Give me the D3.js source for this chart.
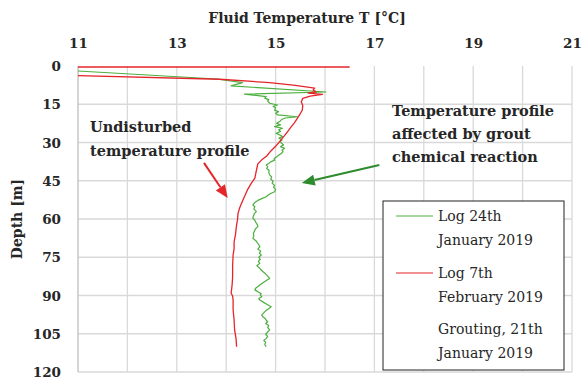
<!DOCTYPE html>
<html>
<head>
<meta charset="utf-8">
<script src="https://cdn.jsdelivr.net/npm/d3@7"></script>
<style>
  html, body { margin: 0; padding: 0; background: #fff; }
  svg { display: block; }
  .serif { font-family: "DejaVu Serif", "Liberation Serif", serif; }
</style>
</head>
<body>
<svg id="chart" width="582" height="380"></svg>
<script>
// Temperature ticks (top axis) and depth ticks (left axis)
const tempTicks = [11, 13, 15, 17, 19, 21];
const depthTicks = [0, 15, 30, 45, 60, 75, 90, 105, 120];

// Log 24th January 2019 (green)
const janDepth = [1.96, 5.1, 6.5, 7.8, 10.2, 11.0, 11.4, 12.0, 12.6, 13.2, 13.8, 14.6, 15.0, 15.3, 15.8, 16.4, 17.3, 17.9, 18.5, 19.2,
  19.9, 20.4, 21.0, 21.8, 22.5, 23.1, 23.8, 24.4, 25.0, 25.7, 26.4, 27.0, 27.7, 28.3, 29.0, 29.6, 30.3, 31.0, 31.6, 32.3,
  33.0, 33.6, 34.2, 35.0, 35.7, 36.3, 36.9, 37.6, 38.2, 38.8, 39.5, 40.2, 41.0, 41.7, 42.7, 43.5, 44.3, 45.2, 46.0, 46.8,
  47.6, 48.4, 49.3, 50.0, 50.6, 51.3, 52.0, 52.7, 53.5, 54.5, 55.2, 56.0, 57.1, 57.9, 58.8, 59.7, 60.5, 61.3, 62.2, 63.0,
  63.9, 64.8, 65.7, 66.6, 67.6, 68.5, 69.3, 70.1, 70.9, 71.8, 72.6, 73.4, 74.1, 75.0, 75.8, 76.6, 77.4, 78.3, 79.0, 79.8,
  80.6, 81.4, 82.2, 83.3, 84.0, 84.8, 85.6, 86.4, 87.1, 87.8, 88.6, 89.3, 89.8, 90.5, 91.2, 91.8, 92.6, 93.4, 94.4, 95.2,
  96.0, 96.8, 97.6, 98.3, 99.0, 99.7, 100.3, 101.0, 101.8, 102.6, 103.5, 104.3, 105.2, 106.0, 106.8, 107.6, 108.4, 109.2, 110.1];
const janTemp = [11.00, 13.81, 14.33, 14.10, 16.02, 14.37, 14.55, 14.81, 14.78, 14.86, 14.84, 14.88, 14.97, 15.04, 14.95, 15.00, 14.98, 15.06, 15.00, 15.04,
  15.44, 15.20, 15.12, 15.08, 15.02, 15.10, 14.98, 15.14, 15.06, 15.10, 15.01, 15.08, 15.14, 15.07, 15.13, 15.09, 15.12, 15.16, 15.10, 15.18,
  15.13, 15.15, 15.12, 15.06, 15.02, 14.97, 14.98, 14.90, 14.86, 14.81, 14.84, 14.82, 14.87, 14.86, 14.88, 14.92, 14.90, 14.95, 14.93, 14.98,
  14.96, 15.00, 14.98, 14.90, 14.85, 14.81, 14.72, 14.64, 14.58, 14.54, 14.58, 14.56, 14.61, 14.57, 14.55, 14.54, 14.58, 14.60, 14.63, 14.64,
  14.59, 14.57, 14.55, 14.56, 14.54, 14.60, 14.63, 14.66, 14.68, 14.64, 14.70, 14.67, 14.71, 14.66, 14.69, 14.65, 14.68, 14.62, 14.66, 14.70,
  14.74, 14.79, 14.83, 14.88, 14.82, 14.76, 14.70, 14.65, 14.60, 14.58, 14.65, 14.71, 14.69, 14.72, 14.66, 14.68, 14.75, 14.82, 14.91, 14.86,
  14.80, 14.76, 14.72, 14.74, 14.79, 14.81, 14.84, 14.80, 14.86, 14.84, 14.88, 14.84, 14.80, 14.84, 14.81, 14.76, 14.80, 14.78, 14.81];

// Log 7th February 2019 (red)
const febDepth = [3.8, 5.2, 6.5, 7.6, 8.7, 9.4, 10.1, 10.6, 11.1, 11.8, 12.7, 14.0, 15.5, 17.3, 19.0, 20.5, 22.3, 24.0, 25.8, 27.8,
  29.7, 31.5, 33.4, 35.3, 36.8, 38.4, 40.2, 42.0, 44.0, 46.2, 48.6, 51.2, 53.8, 55.8, 57.8, 60.1, 62.4, 65.8, 69.0, 71.6,
  74.1, 78.3, 82.6, 85.8, 89.1, 90.2, 91.8, 95.6, 99.6, 103.5, 107.0, 110.1];
const febTemp = [11.00, 13.87, 14.88, 15.40, 15.79, 15.76, 15.82, 15.66, 15.95, 15.70, 15.55, 15.52, 15.55, 15.54, 15.49, 15.44, 15.38, 15.31, 15.24, 15.16,
  15.08, 15.00, 14.90, 14.82, 14.72, 14.64, 14.62, 14.60, 14.58, 14.50, 14.43, 14.37, 14.31, 14.27, 14.24, 14.23, 14.21, 14.19, 14.16, 14.16,
  14.14, 14.13, 14.13, 14.12, 14.10, 14.13, 14.14, 14.14, 14.16, 14.17, 14.20, 14.21];

// Grouting, 21th January 2019 (surface reading)
const groutDepth = [0.4, 0.4];
const groutTemp = [11.0, 16.5];

const legendLabels = [
  ["Log 24th", "January 2019"],
  ["Log 7th", "February 2019"],
  ["Grouting, 21th", "January 2019"]
];

const GREEN = "#4caf3f";
const RED = "#e5252a";
const TEXT = "#262626";

const svg = d3.select("#chart");
svg.append("rect").attr("width", 582).attr("height", 380).attr("fill", "#fff");

const x = d3.scaleLinear().domain([11, 21]).range([78, 572]);
const y = d3.scaleLinear().domain([0, 120]).range([66, 372]);

// Gridlines
const grid = svg.append("g");
grid.selectAll("line.v").data(d3.range(12, 22)).join("line")
  .attr("x1", d => x(d)).attr("x2", d => x(d))
  .attr("y1", y(0)).attr("y2", y(120))
  .attr("stroke", "#d9d9d9").attr("stroke-width", 1.3);
grid.selectAll("line.h").data(depthTicks.slice(1)).join("line")
  .attr("x1", x(11)).attr("x2", x(21))
  .attr("y1", d => y(d)).attr("y2", d => y(d))
  .attr("stroke", "#d9d9d9").attr("stroke-width", 1.3);
// left axis line
svg.append("line").attr("x1", x(11)).attr("x2", x(11)).attr("y1", y(0)).attr("y2", y(120))
  .attr("stroke", "#bfbfbf").attr("stroke-width", 1.3);

// Axes (labels only)
const topAxis = d3.axisTop(x).tickValues(tempTicks).tickSize(0).tickPadding(0);
const gTop = svg.append("g").attr("transform", "translate(0,48)").call(topAxis);
const leftAxis = d3.axisLeft(y).tickValues(depthTicks).tickSize(0).tickPadding(0);
const gLeft = svg.append("g").attr("transform", "translate(61,0)").call(leftAxis);
[gTop, gLeft].forEach(g => {
  g.select(".domain").remove();
  g.selectAll("text").attr("class", "serif")
    .style("font-size", "13.5px").style("font-weight", "bold").attr("fill", TEXT);
});
gLeft.selectAll("text").attr("dy", "0.35em");

// Axis titles
svg.append("text").attr("class", "serif").attr("x", 307).attr("y", 23)
  .attr("text-anchor", "middle").style("font-size", "14px").style("font-weight", "bold")
  .attr("fill", TEXT).text("Fluid Temperature T [°C]");
svg.append("text").attr("class", "serif")
  .attr("transform", "translate(22,219) rotate(-90)")
  .attr("text-anchor", "middle").style("font-size", "14px").style("font-weight", "bold")
  .attr("fill", TEXT).text("Depth [m]");

// Series
const line = d3.line().x(d => x(d[0])).y(d => y(d[1]));
const zip = (t, dp) => t.map((v, i) => [v, dp[i]]);

svg.append("path").datum(zip(groutTemp, groutDepth)).attr("d", line)
  .attr("fill", "none").attr("stroke", RED).attr("stroke-opacity", 0.75).attr("stroke-width", 2);
svg.append("path").datum(zip(janTemp, janDepth)).attr("d", line)
  .attr("fill", "none").attr("stroke", GREEN).attr("stroke-width", 1.2).attr("stroke-linejoin", "round");
svg.append("path").datum(zip(febTemp, febDepth)).attr("d", line)
  .attr("fill", "none").attr("stroke", RED).attr("stroke-width", 1.3).attr("stroke-linejoin", "round");

// Annotation arrows
function arrow(t0, d0, t1, d1, color) {
  const x0 = x(t0), y0 = y(d0), x1 = x(t1), y1 = y(d1);
  const ang = Math.atan2(y1 - y0, x1 - x0);
  const hl = 13, hw = 5.5;
  const bx = x1 - hl * Math.cos(ang), by = y1 - hl * Math.sin(ang);
  svg.append("line").attr("x1", x0).attr("y1", y0).attr("x2", bx).attr("y2", by)
    .attr("stroke", color).attr("stroke-width", 2);
  const px = -Math.sin(ang) * hw, py = Math.cos(ang) * hw;
  svg.append("path")
    .attr("d", `M${x1},${y1}L${bx + px},${by + py}L${bx - px},${by - py}Z`)
    .attr("fill", color);
}
arrow(13.55, 38.0, 14.03, 51.8, RED);
arrow(17.10, 38.8, 15.53, 45.9, "#2e8b2e");

// Annotation text
function block(lines, x0, y0, lh) {
  const t = svg.append("text").attr("class", "serif")
    .style("font-size", "14.5px").style("font-weight", "bold").attr("fill", TEXT);
  lines.forEach((s, i) => t.append("tspan").attr("x", x0).attr("y", y0 + i * lh).text(s));
}
block(["Undisturbed", "temperature profile"], 90, 132, 24);
block(["Temperature profile", "affected by grout", "chemical reaction"], 392, 116, 23);

// Legend
const lg = svg.append("g");
lg.append("rect").attr("x", 383).attr("y", 201).attr("width", 181).attr("height", 169)
  .attr("fill", "#fff").attr("stroke", "#222").attr("stroke-width", 1);
const legendColors = [GREEN, RED, null];
const legendY = [216, 273, 329];
legendLabels.forEach((lab, i) => {
  if (legendColors[i]) {
    lg.append("line").attr("x1", 396).attr("x2", 433).attr("y1", legendY[i]).attr("y2", legendY[i])
      .attr("stroke", legendColors[i]).attr("stroke-width", 1.2);
  }
  const t = lg.append("text").attr("class", "serif").style("font-size", "14px").attr("fill", TEXT);
  lab.forEach((s, j) => t.append("tspan").attr("x", 438).attr("y", legendY[i] + 5 + j * 24).text(s));
});
</script>
</body>
</html>
